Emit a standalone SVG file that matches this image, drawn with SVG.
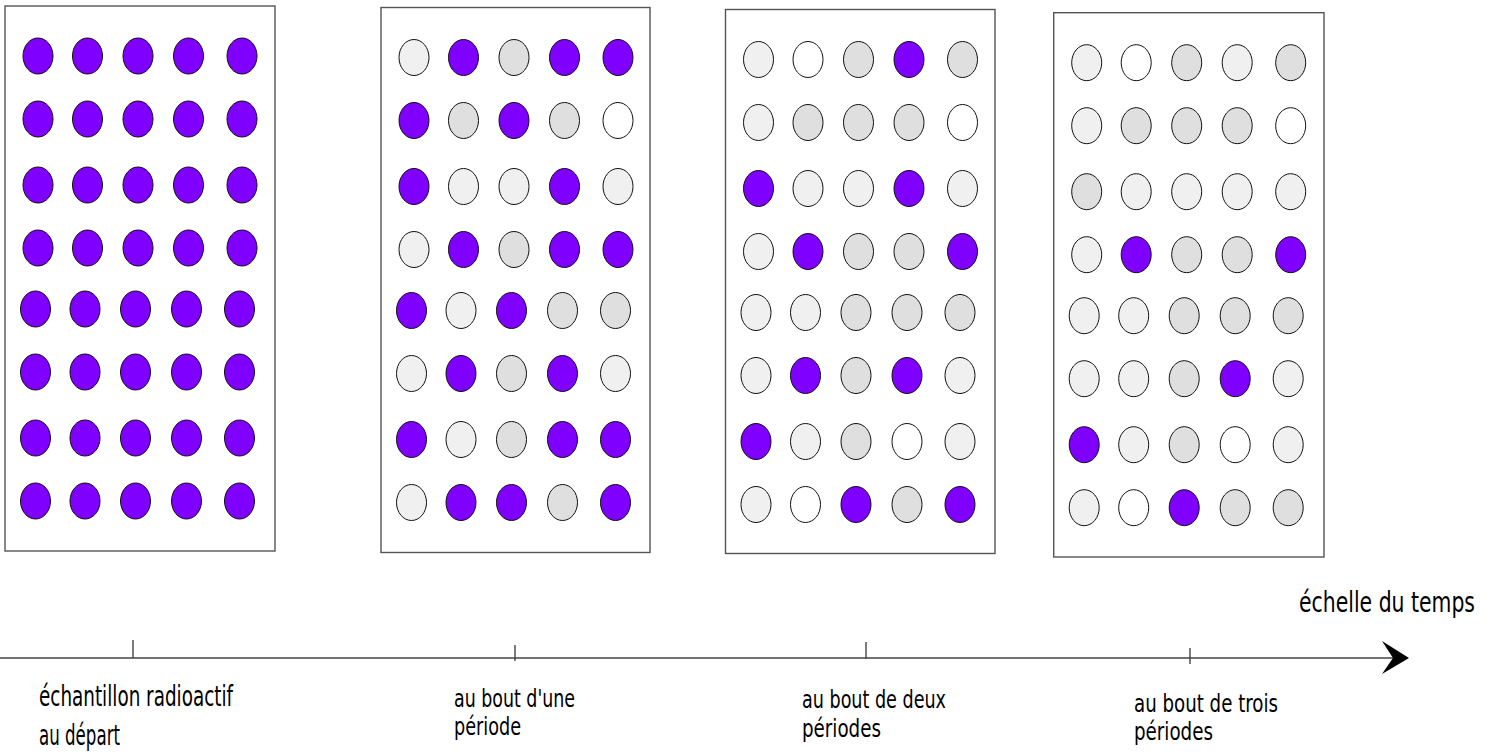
<svg xmlns="http://www.w3.org/2000/svg" width="1493" height="754" viewBox="0 0 1493 754">
<style>
  .panel{fill:#fff;stroke:#555;stroke-width:1.4}
  ellipse{stroke:#111;stroke-width:1}
  .p{fill:#7f00ff}
  .l{fill:#f0f0f0}
  .g{fill:#dfdfdf}
  .w{fill:#fff}
  .axis{stroke:#444;stroke-width:1.4;fill:none}
  .lbl{font-family:"Liberation Sans Narrow","DejaVu Sans Condensed","Liberation Sans",sans-serif;fill:#000}
</style>
<rect width="1493" height="754" fill="#fff"/>

<g id="panel-depart" transform="translate(5,6)">
  <rect class="panel" x="0" y="0" width="270" height="545"/>
  <ellipse class="p" cx="33" cy="50" rx="15" ry="18"/><ellipse class="p" cx="82.5" cy="50" rx="15" ry="18"/><ellipse class="p" cx="133" cy="50" rx="15" ry="18"/><ellipse class="p" cx="183.5" cy="50" rx="15" ry="18"/><ellipse class="p" cx="237" cy="50" rx="15" ry="18"/>
  <ellipse class="p" cx="33" cy="113" rx="15" ry="18"/><ellipse class="p" cx="82.5" cy="113" rx="15" ry="18"/><ellipse class="p" cx="133" cy="113" rx="15" ry="18"/><ellipse class="p" cx="183.5" cy="113" rx="15" ry="18"/><ellipse class="p" cx="237" cy="113" rx="15" ry="18"/>
  <ellipse class="p" cx="33" cy="179" rx="15" ry="18"/><ellipse class="p" cx="82.5" cy="179" rx="15" ry="18"/><ellipse class="p" cx="133" cy="179" rx="15" ry="18"/><ellipse class="p" cx="183.5" cy="179" rx="15" ry="18"/><ellipse class="p" cx="237" cy="179" rx="15" ry="18"/>
  <ellipse class="p" cx="33" cy="242" rx="15" ry="18"/><ellipse class="p" cx="82.5" cy="242" rx="15" ry="18"/><ellipse class="p" cx="133" cy="242" rx="15" ry="18"/><ellipse class="p" cx="183.5" cy="242" rx="15" ry="18"/><ellipse class="p" cx="237" cy="242" rx="15" ry="18"/>
  <ellipse class="p" cx="30.5" cy="303" rx="15" ry="18"/><ellipse class="p" cx="80" cy="303" rx="15" ry="18"/><ellipse class="p" cx="130.5" cy="303" rx="15" ry="18"/><ellipse class="p" cx="181.5" cy="303" rx="15" ry="18"/><ellipse class="p" cx="234.5" cy="303" rx="15" ry="18"/>
  <ellipse class="p" cx="30.5" cy="366" rx="15" ry="18"/><ellipse class="p" cx="80" cy="366" rx="15" ry="18"/><ellipse class="p" cx="130.5" cy="366" rx="15" ry="18"/><ellipse class="p" cx="181.5" cy="366" rx="15" ry="18"/><ellipse class="p" cx="234.5" cy="366" rx="15" ry="18"/>
  <ellipse class="p" cx="30.5" cy="432" rx="15" ry="18"/><ellipse class="p" cx="80" cy="432" rx="15" ry="18"/><ellipse class="p" cx="130.5" cy="432" rx="15" ry="18"/><ellipse class="p" cx="181.5" cy="432" rx="15" ry="18"/><ellipse class="p" cx="234.5" cy="432" rx="15" ry="18"/>
  <ellipse class="p" cx="30.5" cy="495" rx="15" ry="18"/><ellipse class="p" cx="80" cy="495" rx="15" ry="18"/><ellipse class="p" cx="130.5" cy="495" rx="15" ry="18"/><ellipse class="p" cx="181.5" cy="495" rx="15" ry="18"/><ellipse class="p" cx="234.5" cy="495" rx="15" ry="18"/>
</g>

<g id="panel-une-periode" transform="translate(381,7.5)">
  <rect class="panel" x="0" y="0" width="269" height="545"/>
  <ellipse class="l" cx="33" cy="50" rx="15" ry="18"/><ellipse class="p" cx="82.5" cy="50" rx="15" ry="18"/><ellipse class="g" cx="133" cy="50" rx="15" ry="18"/><ellipse class="p" cx="183.5" cy="50" rx="15" ry="18"/><ellipse class="p" cx="237" cy="50" rx="15" ry="18"/>
  <ellipse class="p" cx="33" cy="113" rx="15" ry="18"/><ellipse class="g" cx="82.5" cy="113" rx="15" ry="18"/><ellipse class="p" cx="133" cy="113" rx="15" ry="18"/><ellipse class="g" cx="183.5" cy="113" rx="15" ry="18"/><ellipse class="w" cx="237" cy="113" rx="15" ry="18"/>
  <ellipse class="p" cx="33" cy="179" rx="15" ry="18"/><ellipse class="l" cx="82.5" cy="179" rx="15" ry="18"/><ellipse class="l" cx="133" cy="179" rx="15" ry="18"/><ellipse class="p" cx="183.5" cy="179" rx="15" ry="18"/><ellipse class="l" cx="237" cy="179" rx="15" ry="18"/>
  <ellipse class="l" cx="33" cy="242" rx="15" ry="18"/><ellipse class="p" cx="82.5" cy="242" rx="15" ry="18"/><ellipse class="g" cx="133" cy="242" rx="15" ry="18"/><ellipse class="p" cx="183.5" cy="242" rx="15" ry="18"/><ellipse class="p" cx="237" cy="242" rx="15" ry="18"/>
  <ellipse class="p" cx="30.5" cy="303" rx="15" ry="18"/><ellipse class="l" cx="80" cy="303" rx="15" ry="18"/><ellipse class="p" cx="130.5" cy="303" rx="15" ry="18"/><ellipse class="g" cx="181.5" cy="303" rx="15" ry="18"/><ellipse class="g" cx="234.5" cy="303" rx="15" ry="18"/>
  <ellipse class="l" cx="30.5" cy="366" rx="15" ry="18"/><ellipse class="p" cx="80" cy="366" rx="15" ry="18"/><ellipse class="g" cx="130.5" cy="366" rx="15" ry="18"/><ellipse class="p" cx="181.5" cy="366" rx="15" ry="18"/><ellipse class="l" cx="234.5" cy="366" rx="15" ry="18"/>
  <ellipse class="p" cx="30.5" cy="432" rx="15" ry="18"/><ellipse class="l" cx="80" cy="432" rx="15" ry="18"/><ellipse class="g" cx="130.5" cy="432" rx="15" ry="18"/><ellipse class="p" cx="181.5" cy="432" rx="15" ry="18"/><ellipse class="p" cx="234.5" cy="432" rx="15" ry="18"/>
  <ellipse class="l" cx="30.5" cy="495" rx="15" ry="18"/><ellipse class="p" cx="80" cy="495" rx="15" ry="18"/><ellipse class="p" cx="130.5" cy="495" rx="15" ry="18"/><ellipse class="g" cx="181.5" cy="495" rx="15" ry="18"/><ellipse class="p" cx="234.5" cy="495" rx="15" ry="18"/>
</g>

<g id="panel-deux-periodes" transform="translate(725.5,9.5)">
  <rect class="panel" x="0" y="0" width="269.5" height="544"/>
  <ellipse class="l" cx="33" cy="50" rx="15" ry="18"/><ellipse class="w" cx="82.5" cy="50" rx="15" ry="18"/><ellipse class="g" cx="133" cy="50" rx="15" ry="18"/><ellipse class="p" cx="183.5" cy="50" rx="15" ry="18"/><ellipse class="g" cx="237" cy="50" rx="15" ry="18"/>
  <ellipse class="l" cx="33" cy="113" rx="15" ry="18"/><ellipse class="g" cx="82.5" cy="113" rx="15" ry="18"/><ellipse class="g" cx="133" cy="113" rx="15" ry="18"/><ellipse class="g" cx="183.5" cy="113" rx="15" ry="18"/><ellipse class="w" cx="237" cy="113" rx="15" ry="18"/>
  <ellipse class="p" cx="33" cy="179" rx="15" ry="18"/><ellipse class="l" cx="82.5" cy="179" rx="15" ry="18"/><ellipse class="l" cx="133" cy="179" rx="15" ry="18"/><ellipse class="p" cx="183.5" cy="179" rx="15" ry="18"/><ellipse class="l" cx="237" cy="179" rx="15" ry="18"/>
  <ellipse class="l" cx="33" cy="242" rx="15" ry="18"/><ellipse class="p" cx="82.5" cy="242" rx="15" ry="18"/><ellipse class="g" cx="133" cy="242" rx="15" ry="18"/><ellipse class="g" cx="183.5" cy="242" rx="15" ry="18"/><ellipse class="p" cx="237" cy="242" rx="15" ry="18"/>
  <ellipse class="l" cx="30.5" cy="303" rx="15" ry="18"/><ellipse class="l" cx="80" cy="303" rx="15" ry="18"/><ellipse class="g" cx="130.5" cy="303" rx="15" ry="18"/><ellipse class="g" cx="181.5" cy="303" rx="15" ry="18"/><ellipse class="g" cx="234.5" cy="303" rx="15" ry="18"/>
  <ellipse class="l" cx="30.5" cy="366" rx="15" ry="18"/><ellipse class="p" cx="80" cy="366" rx="15" ry="18"/><ellipse class="g" cx="130.5" cy="366" rx="15" ry="18"/><ellipse class="p" cx="181.5" cy="366" rx="15" ry="18"/><ellipse class="l" cx="234.5" cy="366" rx="15" ry="18"/>
  <ellipse class="p" cx="30.5" cy="432" rx="15" ry="18"/><ellipse class="l" cx="80" cy="432" rx="15" ry="18"/><ellipse class="g" cx="130.5" cy="432" rx="15" ry="18"/><ellipse class="w" cx="181.5" cy="432" rx="15" ry="18"/><ellipse class="l" cx="234.5" cy="432" rx="15" ry="18"/>
  <ellipse class="l" cx="30.5" cy="495" rx="15" ry="18"/><ellipse class="w" cx="80" cy="495" rx="15" ry="18"/><ellipse class="p" cx="130.5" cy="495" rx="15" ry="18"/><ellipse class="g" cx="181.5" cy="495" rx="15" ry="18"/><ellipse class="p" cx="234.5" cy="495" rx="15" ry="18"/>
</g>

<g id="panel-trois-periodes" transform="translate(1053.7,12.7)">
  <rect class="panel" x="0" y="0" width="270.3" height="544.3"/>
  <ellipse class="l" cx="33" cy="50" rx="15" ry="18"/><ellipse class="w" cx="82.5" cy="50" rx="15" ry="18"/><ellipse class="g" cx="133" cy="50" rx="15" ry="18"/><ellipse class="l" cx="183.5" cy="50" rx="15" ry="18"/><ellipse class="g" cx="237" cy="50" rx="15" ry="18"/>
  <ellipse class="l" cx="33" cy="113" rx="15" ry="18"/><ellipse class="g" cx="82.5" cy="113" rx="15" ry="18"/><ellipse class="g" cx="133" cy="113" rx="15" ry="18"/><ellipse class="g" cx="183.5" cy="113" rx="15" ry="18"/><ellipse class="w" cx="237" cy="113" rx="15" ry="18"/>
  <ellipse class="g" cx="33" cy="179" rx="15" ry="18"/><ellipse class="l" cx="82.5" cy="179" rx="15" ry="18"/><ellipse class="l" cx="133" cy="179" rx="15" ry="18"/><ellipse class="l" cx="183.5" cy="179" rx="15" ry="18"/><ellipse class="l" cx="237" cy="179" rx="15" ry="18"/>
  <ellipse class="l" cx="33" cy="242" rx="15" ry="18"/><ellipse class="p" cx="82.5" cy="242" rx="15" ry="18"/><ellipse class="g" cx="133" cy="242" rx="15" ry="18"/><ellipse class="g" cx="183.5" cy="242" rx="15" ry="18"/><ellipse class="p" cx="237" cy="242" rx="15" ry="18"/>
  <ellipse class="l" cx="30.5" cy="303" rx="15" ry="18"/><ellipse class="l" cx="80" cy="303" rx="15" ry="18"/><ellipse class="g" cx="130.5" cy="303" rx="15" ry="18"/><ellipse class="g" cx="181.5" cy="303" rx="15" ry="18"/><ellipse class="g" cx="234.5" cy="303" rx="15" ry="18"/>
  <ellipse class="l" cx="30.5" cy="366" rx="15" ry="18"/><ellipse class="l" cx="80" cy="366" rx="15" ry="18"/><ellipse class="g" cx="130.5" cy="366" rx="15" ry="18"/><ellipse class="p" cx="181.5" cy="366" rx="15" ry="18"/><ellipse class="l" cx="234.5" cy="366" rx="15" ry="18"/>
  <ellipse class="p" cx="30.5" cy="432" rx="15" ry="18"/><ellipse class="l" cx="80" cy="432" rx="15" ry="18"/><ellipse class="g" cx="130.5" cy="432" rx="15" ry="18"/><ellipse class="w" cx="181.5" cy="432" rx="15" ry="18"/><ellipse class="l" cx="234.5" cy="432" rx="15" ry="18"/>
  <ellipse class="l" cx="30.5" cy="495" rx="15" ry="18"/><ellipse class="w" cx="80" cy="495" rx="15" ry="18"/><ellipse class="p" cx="130.5" cy="495" rx="15" ry="18"/><ellipse class="g" cx="181.5" cy="495" rx="15" ry="18"/><ellipse class="g" cx="234.5" cy="495" rx="15" ry="18"/>
</g>

<g id="connectors">
  <line class="axis" x1="0" y1="658" x2="1396" y2="658"/>
  <polygon points="1409,658 1382,641 1393,658 1382,674" fill="#000"/>
  <line class="axis" x1="133" y1="640" x2="133" y2="658"/>
  <line class="axis" x1="515" y1="645" x2="515" y2="661"/>
  <line class="axis" x1="866" y1="642" x2="866" y2="659"/>
  <line class="axis" x1="1190" y1="648" x2="1190" y2="664"/>
</g>

<g id="labels">
  <text class="lbl" x="1299" y="612" font-size="28" textLength="176" lengthAdjust="spacingAndGlyphs">échelle du temps</text>
  <text class="lbl" x="39" y="706" font-size="29" textLength="194" lengthAdjust="spacingAndGlyphs">échantillon radioactif</text>
  <text class="lbl" x="39" y="745" font-size="29" textLength="81" lengthAdjust="spacingAndGlyphs">au départ</text>
  <text class="lbl" x="454" y="707" font-size="25" textLength="121" lengthAdjust="spacingAndGlyphs">au bout d'une</text>
  <text class="lbl" x="454" y="735" font-size="25" textLength="67" lengthAdjust="spacingAndGlyphs">période</text>
  <text class="lbl" x="802" y="708" font-size="25" textLength="144" lengthAdjust="spacingAndGlyphs">au bout de deux</text>
  <text class="lbl" x="802" y="737" font-size="25" textLength="79" lengthAdjust="spacingAndGlyphs">périodes</text>
  <text class="lbl" x="1134" y="712" font-size="25" textLength="144" lengthAdjust="spacingAndGlyphs">au bout de trois</text>
  <text class="lbl" x="1134" y="740" font-size="25" textLength="79" lengthAdjust="spacingAndGlyphs">périodes</text>
</g>
</svg>
